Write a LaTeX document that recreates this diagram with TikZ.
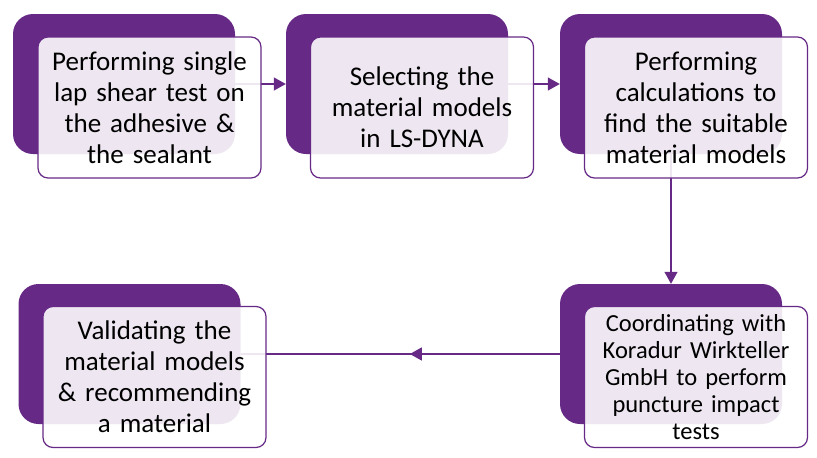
\documentclass[tikz,border=0pt]{standalone}
\usepackage{fontspec}
\setmainfont{Carlito}
\usetikzlibrary{arrows.meta, positioning, decorations.markings}
\definecolor{plum}{RGB}{102,42,134}

\begin{document}
\begin{tikzpicture}[x=1pt, y=-1pt,
	back/.style={rectangle, rounded corners=20pt, fill=plum, minimum width=222pt, minimum height=140pt, inner sep=0pt},
	card/.style={rectangle, rounded corners=10pt, draw=plum, line width=1.2pt, fill=white, fill opacity=0.89, text opacity=1, minimum width=223pt, minimum height=141pt, inner sep=2pt, text width=218pt, align=center, font=\fontsize{27}{31}\selectfont},
	link/.style={draw=plum, line width=1.3pt, -{Triangle[length=12pt,width=13pt]}}]
	\useasboundingbox (0,0) rectangle (817,458);
	% dark backing tiles
	\node[back] (b1) at (124,84) {};
	\node[back] (b2) at (397,84) {};
	\node[back] (b3) at (671,84) {};
	\node[back] (b5) at (671,354) {};
	\node[back] (b4) at (129.5,354) {};
	% connectors
	\draw[link] (b1) -- (b2);
	\draw[link] (b2) -- (b3);
	\draw[link] (b3) -- (b5);
	\draw[draw=plum, line width=1.3pt, postaction={decorate},
		decoration={markings, mark=at position 0.47 with {\arrow{Triangle[length=12pt,width=13pt]}}}] (b5) -- (b4);
	% text cards
	\node[card] (c1) at (149.5,107.5) {Performing single\\lap shear test on\\the adhesive \&\\the sealant};
	\node[card] (c2) at (422,107.5) {Selecting the\\material models\\in LS-DYNA};
	\node[card] (c3) at (696,107.5) {Performing\\calculations to\\find the suitable\\material models};
	\node[card, font=\fontsize{24.5}{27}\selectfont] (c5) at (696,377) {Coordinating with\\Koradur Wirkteller\\GmbH to perform\\puncture impact\\tests};
	\node[card] (c4) at (154.5,377) {Validating the\\material models\\\& recommending\\a material};
\end{tikzpicture}
\end{document}
